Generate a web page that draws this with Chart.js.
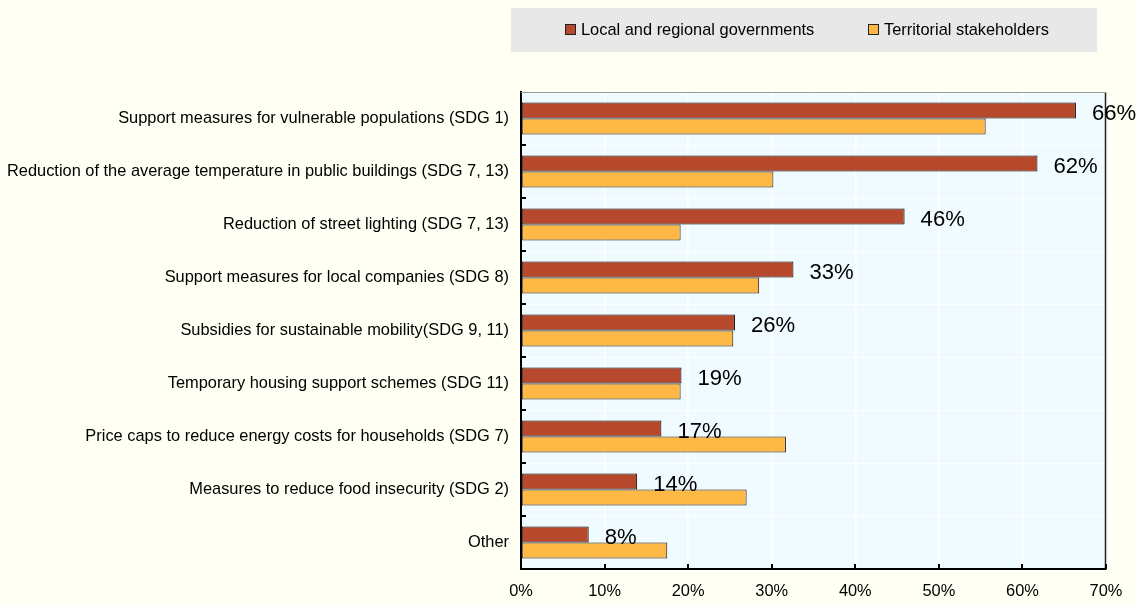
<!DOCTYPE html>
<html>
<head>
<meta charset="utf-8">
<script src="https://cdn.jsdelivr.net/npm/chart.js@4.4.1/dist/chart.umd.min.js"></script>
<style>
  html, body { margin: 0; padding: 0; background: #FFFFF3; }
  canvas { display: block; }
</style>
</head>
<body>
<canvas id="c" width="1136" height="604"></canvas>
<script>
const categories = [
  'Support measures for vulnerable populations (SDG 1)',
  'Reduction of the average temperature in public buildings (SDG 7, 13)',
  'Reduction of street lighting (SDG 7, 13)',
  'Support measures for local companies (SDG 8)',
  'Subsidies for sustainable mobility(SDG 9, 11)',
  'Temporary housing support schemes (SDG 11)',
  'Price caps to reduce energy costs for households (SDG 7)',
  'Measures to reduce food insecurity (SDG 2)',
  'Other'
];
const seriesNames = ['Local and regional governments', 'Territorial stakeholders'];
const localGov = [66.4, 61.8, 45.9, 32.6, 25.6, 19.2, 16.8, 13.9, 8.1];
const territorial = [55.6, 30.2, 19.1, 28.5, 25.4, 19.1, 31.7, 27.0, 17.5];
const localLabels = ['66%', '62%', '46%', '33%', '26%', '19%', '17%', '14%', '8%'];
const xMin = 0, xMax = 70, xStep = 10;

// font detection
function hasFont(f) {
  const c = document.createElement('canvas').getContext('2d');
  const s = 'abcdefghijklmnopqrstuvwxyz ABCDEFG 0123456789%';
  c.font = '40px monospace';
  const a = c.measureText(s).width;
  c.font = '40px "' + f + '", monospace';
  const b = c.measureText(s).width;
  return Math.abs(a - b) > 0.5;
}
let FAMILY = '"Liberation Sans Narrow", "Arial Narrow", sans-serif';
let K = 1;
if (!hasFont('Liberation Sans Narrow') && !hasFont('Arial Narrow')) {
  FAMILY = '"Liberation Sans", Arial, sans-serif';
  K = 0.82;
}
const fs = v => Math.round(v * K * 10) / 10;

const COL_LOCAL = '#B6492B';
const COL_TERR = '#FDB845';

const bgPlugin = {
  id: 'bg',
  beforeDraw(chart) {
    const ctx = chart.ctx, a = chart.chartArea;
    ctx.save();
    ctx.fillStyle = '#FFFFF3';
    ctx.fillRect(0, 0, chart.width, chart.height);
    ctx.fillStyle = '#F0FBFF';
    ctx.fillRect(a.left, a.top, a.right - a.left, a.bottom - a.top);
    ctx.restore();
  }
};

const framePlugin = {
  id: 'frame',
  beforeDatasetsDraw(chart) {
    const ctx = chart.ctx, a = chart.chartArea;
    const xs = chart.scales.x;
    ctx.save();
    ctx.strokeStyle = '#222';
    ctx.lineWidth = 1.5;
    ctx.beginPath();
    ctx.moveTo(a.right - 0.5, a.top);
    ctx.lineTo(a.right - 0.5, a.bottom);
    ctx.stroke();
    ctx.strokeStyle = '#9a9a9a';
    ctx.lineWidth = 1;
    ctx.beginPath();
    ctx.moveTo(a.left, a.top + 0.5);
    ctx.lineTo(a.right, a.top + 0.5);
    ctx.stroke();
    ctx.strokeStyle = '#000';
    ctx.lineWidth = 2;
    xs.ticks.forEach(t => {
      const x = Math.round(xs.getPixelForValue(t.value));
      ctx.beginPath();
      ctx.moveTo(x, a.bottom);
      ctx.lineTo(x, a.bottom - 5);
      ctx.stroke();
    });
    const n = categories.length;
    const band = (a.bottom - a.top) / n;
    for (let i = 1; i < n; i++) {
      const y = Math.round(a.top + band * i);
      ctx.beginPath();
      ctx.moveTo(a.left, y);
      ctx.lineTo(a.left + 5, y);
      ctx.stroke();
    }
    ctx.restore();
  },
  afterDatasetsDraw(chart) {
    const ctx = chart.ctx;
    const meta = chart.getDatasetMeta(0);
    ctx.save();
    ctx.fillStyle = '#000';
    ctx.font = fs(27) + 'px ' + FAMILY;
    ctx.textAlign = 'left';
    ctx.textBaseline = 'middle';
    meta.data.forEach((bar, i) => {
      ctx.fillText(localLabels[i], bar.x + 16, bar.y + 3);
    });
    ctx.restore();
  }
};

const legendPlugin = {
  id: 'customLegend',
  afterDraw(chart) {
    const ctx = chart.ctx;
    ctx.save();
    ctx.fillStyle = '#E8E8E8';
    ctx.fillRect(511, 8, 586, 44);
    const items = chart.data.datasets.map(d => ({ label: d.label, color: d.backgroundColor }));
    const xs = [565, 868];
    const cy = 29.5;
    ctx.font = fs(20) + 'px ' + FAMILY;
    ctx.textBaseline = 'middle';
    ctx.textAlign = 'left';
    items.forEach((it, i) => {
      ctx.fillStyle = it.color;
      ctx.fillRect(xs[i], cy - 5.5, 11, 11);
      ctx.strokeStyle = '#222';
      ctx.lineWidth = 1;
      ctx.strokeRect(xs[i] + 0.5, cy - 5.5 + 0.5, 10, 10);
      ctx.fillStyle = '#000';
      ctx.fillText(it.label, xs[i] + 16, cy + 1);
    });
    ctx.restore();
  }
};

new Chart(document.getElementById('c'), {
  type: 'bar',
  data: {
    labels: categories,
    datasets: [
      { label: seriesNames[0], data: localGov, backgroundColor: COL_LOCAL, borderColor: '#000', borderWidth: 1, borderSkipped: false },
      { label: seriesNames[1], data: territorial, backgroundColor: COL_TERR, borderColor: '#1a1a1a', borderWidth: 1, borderSkipped: false }
    ]
  },
  options: {
    indexAxis: 'y',
    responsive: false,
    animation: false,
    devicePixelRatio: 1,
    layout: { padding: { top: 92, right: 30, bottom: 0, left: 0 } },
    datasets: { bar: { categoryPercentage: 0.6, barPercentage: 1.0 } },
    plugins: { legend: { display: false }, tooltip: { enabled: false } },
    scales: {
      x: {
        min: xMin, max: xMax,
        ticks: {
          stepSize: xStep,
          callback: v => v + '%',
          color: '#000',
          font: { family: FAMILY, size: fs(20) },
          padding: 13,
          maxRotation: 0
        },
        grid: { color: '#FFFFFF', lineWidth: 1.5, drawTicks: false },
        border: { color: '#000', width: 2 },
        afterFit: s => { s.height = 35; }
      },
      y: {
        ticks: {
          color: '#000',
          font: { family: FAMILY, size: fs(20) },
          padding: 12,
          autoSkip: false
        },
        grid: { color: '#FFFFFF', lineWidth: 1, drawTicks: false, offset: true },
        border: { color: '#000', width: 2 },
        afterFit: s => { s.width = 521; }
      }
    }
  },
  plugins: [bgPlugin, framePlugin, legendPlugin]
});
</script>
</body>
</html>
